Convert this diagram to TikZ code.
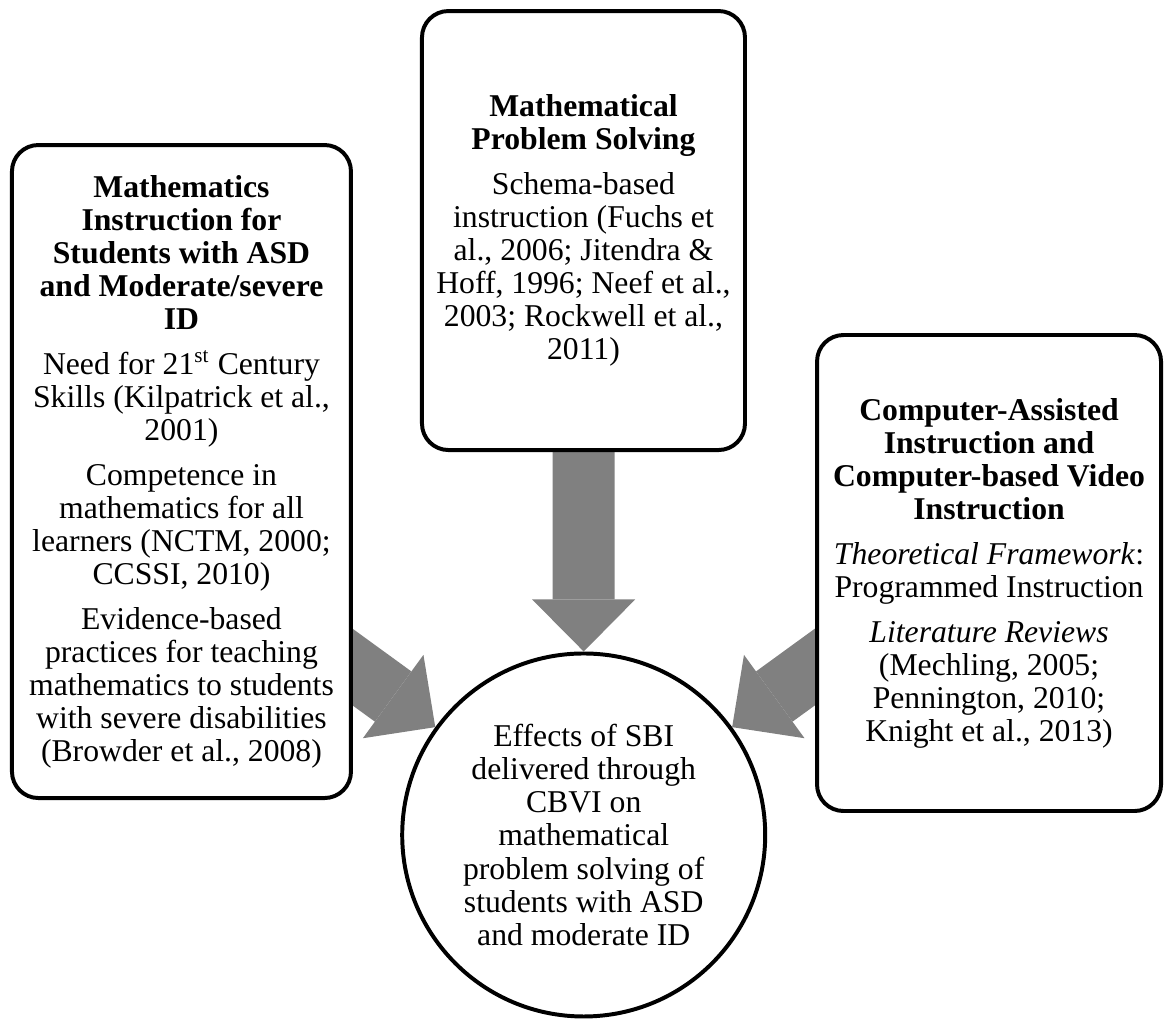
\documentclass[tikz,border=0pt]{standalone}
\usepackage{fontspec}
\setmainfont{Liberation Serif}
\usetikzlibrary{arrows.meta,backgrounds,calc}
\tikzset{every node/.style={ % Same text setting in every box
            font=\fontsize{12}{12.5}\selectfont,
            align=center,
            inner sep=0pt},
        topic/.style={ % Rounded boxes around the circle
            draw,
            line width=1.5pt,
            rounded corners=10pt,
            fill=white},
        outcome/.style={ % The circle they all point to
            draw,
            circle,
            line width=1.5pt,
            fill=white},
        feed/.style={ % Wide grey block arrows
            color=gray,
            line width=23.5pt,
            -{Triangle[length=19.7pt,width=39pt,line width=0pt]}}
        }

\begin{document}
\begin{tikzpicture}
    \useasboundingbox (0,0) rectangle (15.551,13.556);

    \node[topic, minimum width=4.51cm, minimum height=8.687cm] (asd) at (2.414,7.283)
        {\textbf{Mathematics}\\ \textbf{Instruction for}\\ \textbf{Students with ASD}\\
         \textbf{and Moderate/severe}\\ \textbf{ID}\\[4.5pt]
         Need for 21\textsuperscript{st} Century\\ Skills (Kilpatrick et al.,\\ 2001)\\[4.5pt]
         Competence in\\ mathematics for all\\ learners (NCTM, 2000;\\ CCSSI, 2010)\\[4.5pt]
         Evidence-based\\ practices for teaching\\ mathematics to students\\
         with severe disabilities\\ (Browder et al., 2008)};
    \node[topic, minimum width=4.297cm, minimum height=5.84cm] (probsolve) at (7.762,10.489)
        {\textbf{Mathematical}\\ \textbf{Problem Solving}\\[4.5pt]
         Schema-based\\ instruction (Fuchs et\\ al., 2006; Jitendra \&\\
         Hoff, 1996; Neef et al.,\\ 2003; Rockwell et al.,\\ 2011)};
    \node[topic, minimum width=4.576cm, minimum height=6.332cm] (cai) at (13.157,5.933)
        {\textbf{Computer-Assisted}\\ \textbf{Instruction and}\\
         \textbf{Computer-based Video}\\ \textbf{Instruction}\\[4.5pt]
         \textit{Theoretical Framework}:\\ Programmed Instruction\\[4.5pt]
         \textit{Literature Reviews}\\ (Mechling, 2005;\\ Pennington, 2010;\\ Knight et al., 2013)};
    \node[outcome, minimum size=4.829cm] (effects) at (7.765,2.448)
        {Effects of SBI\\ delivered through\\ CBVI on\\ mathematical\\
         problem solving of\\ students with ASD\\ and moderate ID};

    \coordinate (asdfrom) at ($(effects.center)!1.7!(effects.144)$);
    \coordinate (caifrom) at ($(effects.center)!1.7!(effects.36)$);

    \begin{scope}[on background layer]
        \draw[feed] (asdfrom) -- (effects.144);
        \draw[feed] (probsolve.center) -- (effects.north);
        \draw[feed] (caifrom) -- (effects.36);
    \end{scope}
\end{tikzpicture}
\end{document}
